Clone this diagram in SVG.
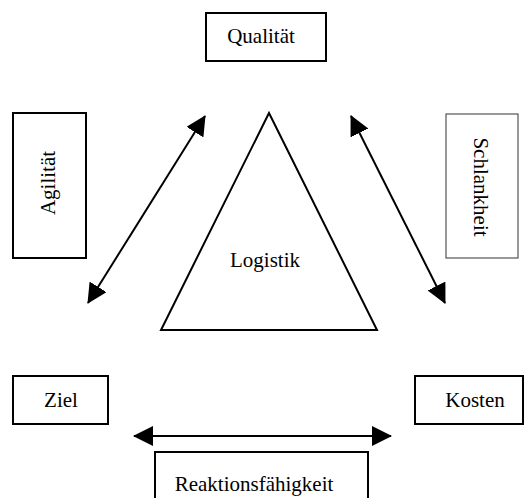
<svg xmlns="http://www.w3.org/2000/svg" width="531" height="498" viewBox="0 0 531 498">
<style>
.box{fill:#fff;stroke:#000;stroke-width:2}
.gbox{fill:#fff;stroke:#555;stroke-width:1.2}
.t{font-family:"Liberation Serif","Times New Roman",serif;font-size:21px;fill:#000;text-anchor:middle}
.con{stroke:#000;stroke-width:2;fill:none;marker-start:url(#ah);marker-end:url(#ah)}
</style>
<defs>
<marker id="ah" viewBox="0 0 20 20" markerWidth="20" markerHeight="20" refX="19" refY="10" orient="auto-start-reverse" markerUnits="userSpaceOnUse">
<path d="M0,0 L20,10 L0,20 z" fill="#000"/>
</marker>
</defs>
<rect width="531" height="498" fill="#fff"/>
<g id="connectors">
<line class="con" x1="88" y1="303" x2="205" y2="116"/>
<line class="con" x1="351" y1="116" x2="445" y2="303"/>
<line class="con" x1="134" y1="436" x2="391" y2="436"/>
</g>
<g id="logistik">
<polygon points="269,113 161,330 377,330" fill="#fff" stroke="#000" stroke-width="2"/>
<text class="t" x="265" y="267">Logistik</text>
</g>
<g id="qualitaet">
<rect class="box" x="206" y="13" width="120" height="48"/>
<text class="t" x="261" y="43">Qualität</text>
</g>
<g id="agilitaet">
<rect class="box" x="13" y="113" width="73" height="145"/>
<text class="t" transform="translate(55,183) rotate(-90)">Agilität</text>
</g>
<g id="schlankheit">
<rect class="gbox" x="446" y="114" width="72" height="144"/>
<text class="t" transform="translate(474,187) rotate(90)">Schlankheit</text>
</g>
<g id="ziel">
<rect class="box" x="13" y="376" width="95" height="48"/>
<text class="t" x="61" y="407">Ziel</text>
</g>
<g id="kosten">
<rect class="box" x="415" y="376" width="108" height="48"/>
<text class="t" x="475" y="407">Kosten</text>
</g>
<g id="reaktionsfaehigkeit">
<rect class="box" x="155" y="452" width="213" height="60"/>
<text class="t" x="254" y="491">Reaktionsfähigkeit</text>
</g>
</svg>
